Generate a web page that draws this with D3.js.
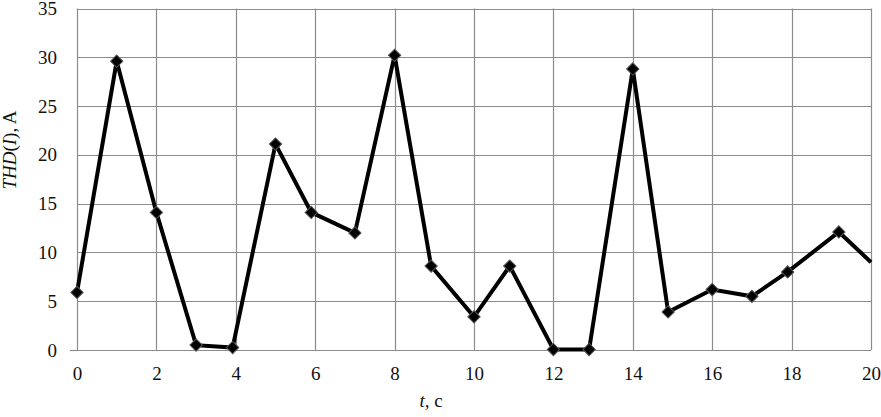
<!DOCTYPE html>
<html>
<head>
<meta charset="utf-8">
<script src="https://cdn.jsdelivr.net/npm/d3@7"></script>
<style>
  html, body { margin: 0; padding: 0; background: #fff; }
  svg { display: block; }
</style>
</head>
<body>
<svg id="chart" width="881" height="417"></svg>
<script>
// Data
const tValues = [0, 1, 2, 3, 3.92, 5, 5.9, 7, 8, 8.92, 10, 10.9, 12, 12.9, 14, 14.89, 16, 17, 17.9, 19.19];
const thdValues = [5.9, 29.6, 14.1, 0.5, 0.25, 21.1, 14.1, 12.0, 30.2, 8.6, 3.4, 8.6, 0.05, 0.05, 28.8, 3.9, 6.2, 5.5, 8.0, 12.1];
// line continues to the right edge (no marker)
const tailT = [20];
const tailValues = [9.0];
const xTicks = [0, 2, 4, 6, 8, 10, 12, 14, 16, 18, 20];
const yTicks = [0, 5, 10, 15, 20, 25, 30, 35];

const svg = d3.select("#chart");
const margin = { left: 77, right: 10, top: 8.5, bottom: 67 };
const W = 881, H = 417;
const x = d3.scaleLinear().domain([0, 20]).range([margin.left, W - margin.right]);
const y = d3.scaleLinear().domain([0, 35]).range([H - margin.bottom, margin.top]);

const gridColor = "#8c8c8c";
const FONT = "Liberation Serif";

// grid
svg.append("g").selectAll("line").data(yTicks).join("line")
  .attr("x1", x(0)).attr("x2", x(20))
  .attr("y1", d => Math.round(y(d)) + 0.5).attr("y2", d => Math.round(y(d)) + 0.5)
  .attr("stroke", gridColor).attr("stroke-width", 1.2);
svg.append("g").selectAll("line").data(xTicks).join("line")
  .attr("x1", d => Math.round(x(d)) + 0.5).attr("x2", d => Math.round(x(d)) + 0.5)
  .attr("y1", y(0)).attr("y2", y(35))
  .attr("stroke", gridColor).attr("stroke-width", 1.2);
// small tick extension at origin
svg.append("line").attr("x1", x(0) - 7).attr("x2", x(0))
  .attr("y1", Math.round(y(0)) + 0.5).attr("y2", Math.round(y(0)) + 0.5)
  .attr("stroke", gridColor).attr("stroke-width", 1.2);

// axes labels via d3 axes (domain/ticks hidden)
const yAxis = d3.axisLeft(y).tickValues(yTicks).tickSize(0).tickPadding(20);
const gy = svg.append("g").attr("transform", `translate(${x(0)},0)`).call(yAxis)
  .attr("font-family", FONT).attr("font-size", 19);
gy.select(".domain").remove();
gy.selectAll("text").attr("fill", "#111");

const xAxis = d3.axisBottom(x).tickValues(xTicks).tickSize(0).tickPadding(17);
const gx = svg.append("g").attr("transform", `translate(0,${y(0)})`).call(xAxis)
  .attr("font-family", FONT).attr("font-size", 19);
gx.select(".domain").remove();
gx.selectAll("text").attr("fill", "#111");

// titles
const yt = svg.append("text")
  .attr("transform", `translate(16,150) rotate(-90)`)
  .attr("text-anchor", "middle").attr("font-family", FONT).attr("font-size", 19).attr("fill", "#111");
yt.append("tspan").attr("font-style", "italic").text("THD");
yt.append("tspan").text("(");
yt.append("tspan").attr("font-style", "italic").text("I");
yt.append("tspan").text("), A");

const xt = svg.append("text")
  .attr("x", 431).attr("y", 407)
  .attr("text-anchor", "middle").attr("font-family", FONT).attr("font-size", 19).attr("fill", "#111");
xt.append("tspan").attr("font-style", "italic").text("t");
xt.append("tspan").text(", с");

// line
const pts = tValues.map((t, i) => [t, thdValues[i]]);
const allPts = pts.concat(tailT.map((t, i) => [t, tailValues[i]]));
const line = d3.line().x(d => x(d[0])).y(d => y(d[1]));
svg.append("path").datum(allPts)
  .attr("d", line).attr("fill", "none")
  .attr("stroke", "#000").attr("stroke-width", 4).attr("stroke-linejoin", "miter");

// diamond markers
svg.append("g").selectAll("path").data(pts).join("path")
  .attr("transform", d => `translate(${x(d[0])},${y(d[1])}) rotate(45)`)
  .attr("d", d3.symbol().type(d3.symbolSquare).size(76))
  .attr("fill", "#000").attr("stroke", "#555").attr("stroke-width", 1);
</script>
</body>
</html>
